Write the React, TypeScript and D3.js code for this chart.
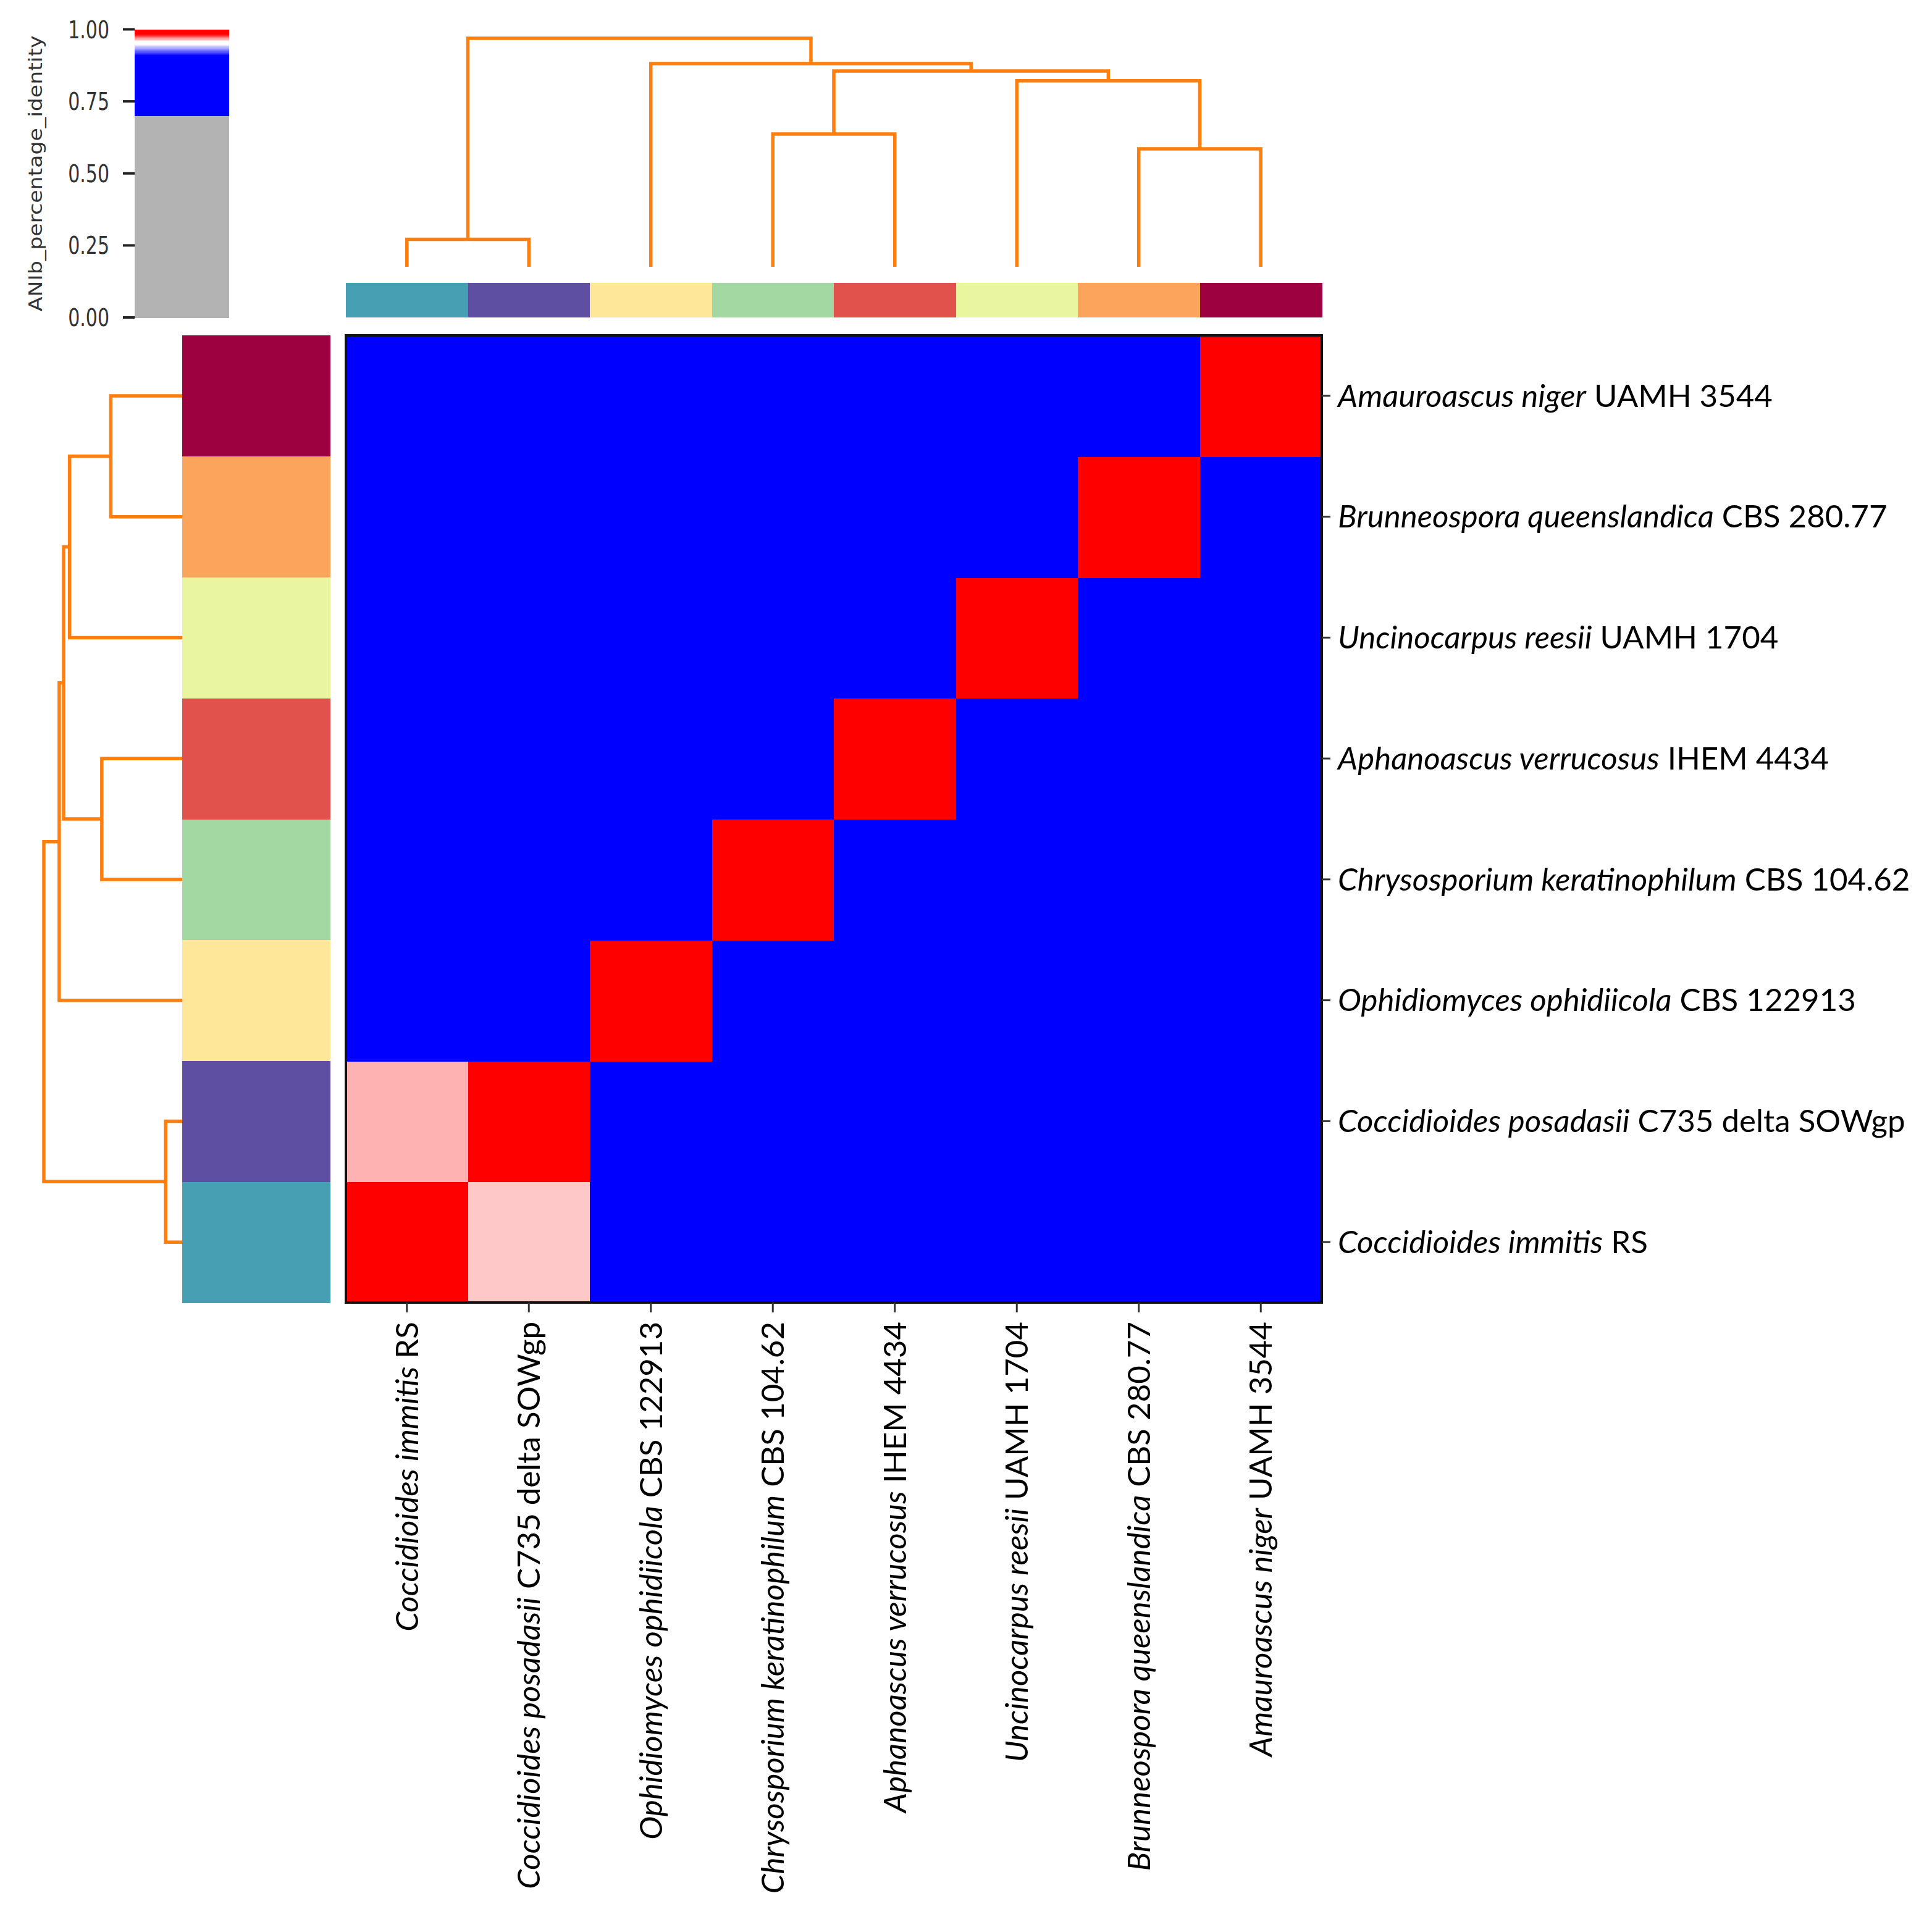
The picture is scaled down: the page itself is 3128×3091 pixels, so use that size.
import React from "react";
import * as d3 from "d3";

// leaf order of the clustered matrix (columns, left to right)
const genus = [
  "Coccidioides immitis",
  "Coccidioides posadasii",
  "Ophidiomyces ophidiicola",
  "Chrysosporium keratinophilum",
  "Aphanoascus verrucosus",
  "Uncinocarpus reesii",
  "Brunneospora queenslandica",
  "Amauroascus niger",
];
const strain = ["RS", "C735 delta SOWgp", "CBS 122913", "CBS 104.62", "IHEM 4434", "UAMH 1704", "CBS 280.77", "UAMH 3544"];
const leafColors = ["#479fb3", "#5e4fa2", "#fee799", "#a2d9a3", "#e0524b", "#eaf69f", "#fba55c", "#9e013f"];

// ANIb percentage identity, row = query, col = subject (same leaf order)
const ani = [
  [1.0, 0.9654, 0.812, 0.803, 0.806, 0.809, 0.801, 0.804],
  [0.9675, 1.0, 0.811, 0.802, 0.805, 0.808, 0.8, 0.803],
  [0.813, 0.812, 1.0, 0.805, 0.807, 0.804, 0.802, 0.806],
  [0.804, 0.803, 0.806, 1.0, 0.832, 0.815, 0.812, 0.81],
  [0.807, 0.806, 0.808, 0.833, 1.0, 0.814, 0.811, 0.813],
  [0.81, 0.809, 0.805, 0.816, 0.815, 1.0, 0.821, 0.823],
  [0.802, 0.801, 0.803, 0.813, 0.812, 0.822, 1.0, 0.841],
  [0.805, 0.804, 0.807, 0.811, 0.814, 0.824, 0.842, 1.0],
];

// linkage: [left node, right node, height]; nodes 0-7 are leaves, 8+ are merges
const linkage: [number, number, number][] = [
  [0, 1, 0.12],
  [6, 7, 0.516],
  [3, 4, 0.581],
  [5, 9, 0.814],
  [10, 11, 0.857],
  [2, 12, 0.889],
  [8, 13, 1.0],
];

const cbarTicks = [0, 0.25, 0.5, 0.75, 1.0];

const W = 3128;
const H = 3091;
const orange = "#ff7f0e";

const colorOf = d3
  .scaleLinear<string>()
  .domain([0, 0.6999, 0.7, 0.91, 0.95, 0.96, 0.985, 1.0])
  .range(["#b3b3b3", "#b3b3b3", "#0000ff", "#0000ff", "#ffffff", "#ffffff", "#ff0000", "#ff0000"])
  .clamp(true);

export default function App() {
  const n = genus.length;
  const idx = d3.range(n);
  const x = d3.scaleBand<number>().domain(idx).range([560, 2140]);
  const y = d3.scaleBand<number>().domain(idx.slice().reverse()).range([543, 2109]);

  // dendrogram positions
  const topH = d3.scaleLinear().domain([0, 1]).range([432, 62]);
  const leftH = d3.scaleLinear().domain([0, 1]).range([295, 71]);
  const posX: number[] = idx.map((i) => x(i)! + x.bandwidth() / 2);
  const posY: number[] = idx.map((i) => y(i)! + y.bandwidth() / 2);
  const hgt: number[] = idx.map(() => 0);
  const topPaths: string[] = [];
  const leftPaths: string[] = [];
  linkage.forEach(([a, b, h]) => {
    topPaths.push(
      `M${posX[a]},${topH(hgt[a])}V${topH(h)}H${posX[b]}V${topH(hgt[b])}`
    );
    leftPaths.push(
      `M${leftH(hgt[a])},${posY[a]}H${leftH(h)}V${posY[b]}H${leftH(hgt[b])}`
    );
    posX.push((posX[a] + posX[b]) / 2);
    posY.push((posY[a] + posY[b]) / 2);
    hgt.push(h);
  });

  // colour bar
  const cb = d3.scaleLinear().domain([0, 1]).range([514, 47.5]);
  const step = 1 / 400;
  const slices = d3.range(0, 1, step);

  const labelFont = "Lato, 'Open Sans', sans-serif";
  const label = (i: number) => (
    <>
      <tspan fontStyle="italic">{genus[i]}</tspan>
      <tspan> {strain[i]}</tspan>
    </>
  );

  return (
    <div style={{ position: "absolute", left: 0, top: 0 }}>
      <svg width={W} height={H} style={{ display: "block", background: "#fff" }}>
        {/* colour bar */}
        <g>
          <g shapeRendering="crispEdges">
            {slices.map((v) => (
              <rect key={v} x={218} width={153} y={cb(v + step)} height={cb(v) - cb(v + step) + 1} fill={colorOf(v + step / 2)} />
            ))}
          </g>
          {cbarTicks.map((t) => (
            <g key={t}>
              <line x1={199} x2={218} y1={cb(t)} y2={cb(t)} stroke="#222" strokeWidth={4} />
              <text
                transform={`translate(177,${cb(t)}) scale(1,1.3)`}
                dy="0.36em"
                textAnchor="end"
                fontFamily="'DejaVu Sans', sans-serif"
                fontSize={30}
                fill="#333"
              >
                {t.toFixed(2)}
              </text>
            </g>
          ))}
          <text
            transform={`translate(57,${(47.5 + 514) / 2}) rotate(-90) scale(1.12,1)`}
            dy="0.35em"
            textAnchor="middle"
            fontFamily="'DejaVu Sans', sans-serif"
            fontSize={31}
            fill="#333"
          >
            ANIb_percentage_identity
          </text>
        </g>

        {/* dendrograms */}
        <g fill="none" stroke={orange} strokeWidth={5.5}>
          {topPaths.map((d, i) => (
            <path key={"t" + i} d={d} />
          ))}
          {leftPaths.map((d, i) => (
            <path key={"l" + i} d={d} />
          ))}
        </g>

        {/* leaf colour strips */}
        <g shapeRendering="crispEdges">
          {idx.map((i) => (
            <rect key={"c" + i} x={x(i)} y={458} width={x.bandwidth() + 0.5} height={56} fill={leafColors[i]} />
          ))}
          {idx.map((i) => (
            <rect key={"r" + i} x={295} y={y(i)} width={240} height={y.bandwidth() + 0.5} fill={leafColors[i]} />
          ))}

          {/* heatmap */}
          {ani.map((row, r) =>
            row.map((v, c) => (
              <rect key={r + "-" + c} x={x(c)} y={y(r)} width={x.bandwidth() + 1} height={y.bandwidth() + 1} fill={colorOf(v)} />
            ))
          )}
        </g>
        <rect x={560} y={543} width={1580} height={1566} fill="none" stroke="#111" strokeWidth={4} />

        {/* right labels */}
        {idx.map((i) => (
          <g key={"yl" + i}>
            <line x1={2140} x2={2154} y1={posY[i]} y2={posY[i]} stroke="#333" strokeWidth={3} />
            <text x={2166} y={posY[i]} dy="0.35em" fontFamily={labelFont} fontSize={51} fill="#000">
              {label(i)}
            </text>
          </g>
        ))}

        {/* bottom labels */}
        {idx.map((i) => (
          <g key={"xl" + i}>
            <line x1={posX[i]} x2={posX[i]} y1={2109} y2={2125} stroke="#333" strokeWidth={3} />
            <text
              transform={`translate(${posX[i]},2140) rotate(-90)`}
              dy="0.35em"
              textAnchor="end"
              fontFamily={labelFont}
              fontSize={51}
              fill="#000"
            >
              {label(i)}
            </text>
          </g>
        ))}
      </svg>
    </div>
  );
}
